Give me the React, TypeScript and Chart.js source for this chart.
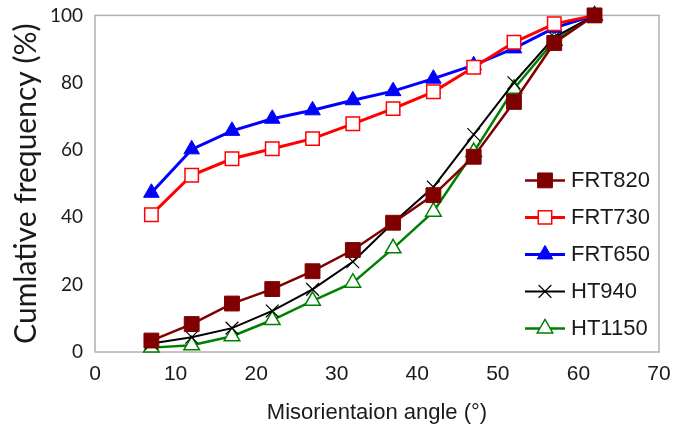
import React, { useEffect, useRef } from "react";
import { Chart, registerables } from "chart.js";
import { drawPoint } from "chart.js/helpers";

Chart.register(...registerables);

const angles = [7, 12, 17, 22, 27, 32, 37, 42, 47, 52, 57, 62];
const frt820 = [3.4, 8.3, 14.4, 18.7, 24, 30.3, 38.4, 46.6, 58, 74.3, 91.8, 100];
const frt730 = [40.8, 52.5, 57.4, 60.4, 63.4, 67.8, 72.3, 77.3, 84.6, 92, 97.5, 100];
const frt650 = [47.3, 60.2, 65.7, 69.3, 71.8, 74.8, 77.5, 81.2, 85.2, 90.2, 96.3, 100];
const ht940 = [2.5, 4.4, 7.1, 12.2, 18.6, 26.8, 38.4, 49, 64.6, 80, 93.5, 100];
const ht1150 = [1.3, 2, 4.7, 9.5, 15.2, 20.6, 30.8, 41.7, 59.4, 78.2, 92.5, 100];

const xTicks = [0, 10, 20, 30, 40, 50, 60, 70];
const yTicks = [0, 20, 40, 60, 80, 100];

const toPoints = (vals: number[]) => angles.map((a, i) => ({ x: a, y: vals[i] }));

const borderPlugin = {
  id: "plotBorder",
  beforeDatasetsDraw(chart: any) {
    const { ctx, chartArea } = chart;
    ctx.save();
    ctx.strokeStyle = "#b0b0b0";
    ctx.lineWidth = 1.5;
    ctx.strokeRect(chartArea.left, chartArea.top, chartArea.right - chartArea.left, chartArea.bottom - chartArea.top);
    ctx.restore();
  },
};

const legendPlugin = {
  id: "customLegend",
  afterDraw(chart: any) {
    const { ctx, chartArea } = chart;
    const x0 = chartArea.right - 134;
    const y0 = chartArea.top + 165;
    const gap = 37;
    ctx.save();
    chart.data.datasets.forEach((ds: any, i: number) => {
      const y = y0 + i * gap;
      ctx.strokeStyle = ds.borderColor;
      ctx.lineWidth = ds.borderWidth;
      ctx.beginPath();
      ctx.moveTo(x0, y);
      ctx.lineTo(x0 + 40, y);
      ctx.stroke();
      ctx.fillStyle = ds.pointBackgroundColor;
      ctx.strokeStyle = ds.borderColor;
      ctx.lineWidth = ds.pointBorderWidth;
      drawPoint(ctx, { pointStyle: ds.pointStyle, radius: ds.pointRadius, rotation: 0, borderWidth: ds.pointBorderWidth }, x0 + 20, y);
      ctx.fillStyle = "#1a1a1a";
      ctx.font = "22px 'Liberation Sans', Arial, sans-serif";
      ctx.textAlign = "left";
      ctx.textBaseline = "middle";
      ctx.fillText(ds.label, x0 + 46, y + 1);
    });
    ctx.restore();
  },
};

export default function App() {
  const ref = useRef<HTMLCanvasElement | null>(null);
  useEffect(() => {
    if (!ref.current) return;
    const mk = (label: string, vals: number[], color: string, fill: string, style: string, r: number, lw: number, pbw: number) => ({
      label,
      data: toPoints(vals),
      borderColor: color,
      backgroundColor: fill,
      pointBackgroundColor: fill,
      pointBorderColor: color,
      pointStyle: style,
      pointRadius: r,
      pointHoverRadius: r,
      pointBorderWidth: pbw,
      borderWidth: lw,
      showLine: true,
      tension: 0,
      clip: false,
    });
    const chart = new Chart(ref.current, {
      type: "scatter",
      data: {
        datasets: [
          mk("FRT820", frt820, "#800000", "#800000", "rect", 10.5, 2.5, 1),
          mk("FRT730", frt730, "#ff0000", "#ffffff", "rect", 9.5, 3, 1.5),
          mk("FRT650", frt650, "#0000ff", "#0000ff", "triangle", 9, 3, 1),
          mk("HT940", ht940, "#000000", "#000000", "crossRot", 9, 2, 1.2),
          mk("HT1150", ht1150, "#008000", "#ffffff", "triangle", 9, 2.5, 1.5),
        ],
      } as any,
      options: {
        animation: false,
        responsive: false,
        layout: { padding: { top: 15, right: 15, left: 0, bottom: 0 } },
        plugins: { legend: { display: false }, tooltip: { enabled: false } },
        scales: {
          x: {
            type: "linear",
            min: 0,
            max: 70,
            afterFit: (s: any) => { s.height = 79; },
            afterBuildTicks: (s: any) => { s.ticks = xTicks.map((v) => ({ value: v })); },
            grid: { display: false },
            border: { display: false },
            ticks: { color: "#1a1a1a", padding: 2, font: { family: "'Liberation Sans', Arial, sans-serif", size: 21 } },
            title: { display: true, text: "Misorientaion angle (°)", color: "#1a1a1a", padding: { top: 0, bottom: 5 }, font: { family: "'Liberation Sans', Arial, sans-serif", size: 22 } },
          },
          y: {
            type: "linear",
            min: 0,
            max: 100,
            afterFit: (s: any) => { s.width = 95; },
            afterBuildTicks: (s: any) => { s.ticks = yTicks.map((v) => ({ value: v })); },
            grid: { display: false },
            border: { display: false },
            ticks: { color: "#1a1a1a", padding: 4, font: { family: "Lato, 'Open Sans', sans-serif", size: 19 } },
            title: { display: true, text: "Cumlative frequency (%)", color: "#1a1a1a", padding: { top: 8, bottom: 0 }, font: { family: "Lato, 'Open Sans', sans-serif", size: 30 } },
          },
        },
      } as any,
      plugins: [borderPlugin, legendPlugin],
    });
    return () => chart.destroy();
  }, []);
  return (
    <div style={{ position: "absolute", left: 0, top: 0, width: 674, height: 431, background: "#fff" }}>
      <canvas ref={ref} width={674} height={431} />
    </div>
  );
}
